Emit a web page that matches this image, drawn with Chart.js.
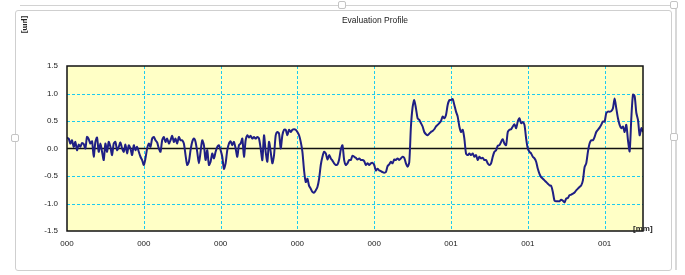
<!DOCTYPE html>
<html>
<head>
<meta charset="utf-8">
<title>Evaluation Profile</title>
<script src="https://cdn.jsdelivr.net/npm/chart.js@4.4.0/dist/chart.umd.min.js"></script>
<style>
    html, body { margin: 0; padding: 0; background: #fff; }
    #wrap { position: relative; width: 685px; height: 275px; overflow: hidden; font-family: "Liberation Sans", Arial, sans-serif; }
    #profileChart { position: absolute; left: 0; top: 0; }
    /* selection frame around the embedded chart */
    .frame-back { position: absolute; left: 20px; top: 5px; width: 655px; height: 264px; border-top: 1px solid #d2d2d2; border-right: 2px solid #d8d8d8; }
    .frame { position: absolute; left: 15px; top: 10px; width: 655px; height: 259px; border: 1px solid #cfcfcf; border-radius: 3px; }
    .handle { position: absolute; width: 6px; height: 6px; border: 1px solid #c4c4c4; background: #fff; border-radius: 2px; }
    .lbl { position: absolute; color: #222; font-size: 8px; white-space: nowrap; }
    #title { left: 300px; top: 15px; width: 150px; text-align: center; font-size: 8.5px; }
    #yUnit { left: 17px; top: 20px; transform: rotate(90deg); font-weight: bold; }
    #xUnit { left: 633px; top: 224px; font-weight: bold; }
</style>
</head>
<body>
<div id="wrap">
    <div class="frame-back"></div>
    <div class="frame"></div>
    <div class="handle" style="left:338px;top:1px;"></div>
    <div class="handle" style="left:670px;top:1px;"></div>
    <div class="handle" style="left:670px;top:133px;"></div>
    <div class="handle" style="left:11px;top:134px;"></div>
    <canvas id="profileChart" width="685" height="275"></canvas>
    <div class="lbl" id="title">Evaluation Profile</div>
    <div class="lbl" id="yUnit">[μm]</div>
    <div class="lbl" id="xUnit">[mm]</div>
</div>
<script>
// Profile heights [um], one sample per sampling step
const profileSeg1 = [0.2, 0.18, 0.09, 0.15, 0.03, 0.12, -0.03, 0.07, 0.03, 0.1, 0.08, 0, 0.21, 0.17, 0.09, 0.13, -0.15, 0.12, 0.2, -0.06,
    0.09, -0.06, -0.21, 0.09, -0.06, 0.12, 0.03, -0.12, 0.09, 0.12, -0.03, 0.03, 0.11, 0, -0.06, 0.07, -0.09, 0.06, 0, -0.12,
    0.06, -0.03, 0.03, -0.06, -0.15, -0.21, -0.3, -0.18, 0, 0.09, 0.03, 0.18, 0.21, 0.15, 0.11, 0, -0.06, 0.15, 0.21, 0.12,
    0.18, 0.09, 0.15, 0.23, 0.12, 0.18, 0.09, 0.21, 0.15];
const profileSeg2 = [0.15, 0.09, -0.12, -0.3, -0.24, -0.03, 0.12, 0.18, 0.12, -0.06, -0.27, -0.06, 0.15, 0.06, -0.21, -0.03, -0.3, -0.24, -0.09, -0.18,
    -0.06, 0.03, 0.06, -0.03, -0.15, -0.37, -0.27, -0.03, 0.09, 0.13, 0.06, 0.12, 0, -0.15, 0.06, 0.09, 0.18, -0.15, 0.15, 0.24,
    0.2, 0.23, 0.18, 0.21, 0.18, 0.21, 0.18, 0, -0.21, 0.24, -0.06, -0.24, 0.12, -0.06, -0.27, -0.12, 0.24, 0.3, 0.27, 0,
    0.24, 0.34, 0.34, 0.24, 0.34, 0.3];
const profileSeg3 = [0.34, 0.35, 0.34, 0.3, 0.24, 0.12, -0.06, -0.4, -0.61, -0.55, -0.68, -0.73, -0.79, -0.8, -0.76, -0.7, -0.55, -0.3, -0.15, -0.06,
    -0.09, -0.2, -0.12, -0.18, -0.22, -0.27, -0.3, -0.29, -0.2, -0.02, 0.06, -0.21, -0.3, -0.27, -0.21, -0.21, -0.13, -0.15, -0.17, -0.2,
    -0.18, -0.21, -0.21, -0.23, -0.3, -0.27, -0.3, -0.27, -0.26, -0.3, -0.4, -0.37, -0.4, -0.41, -0.43, -0.44, -0.43, -0.32, -0.29, -0.24,
    -0.27, -0.2, -0.21, -0.18, -0.21, -0.18, -0.15, -0.17];
const profileSeg4 = [-0.27, -0.33, -0.25, 0.4, 0.75, 0.88, 0.73, 0.55, 0.52, 0.46, 0.4, 0.3, 0.26, 0.24, 0.27, 0.3, 0.32, 0.35, 0.4, 0.43,
    0.46, 0.5, 0.58, 0.55, 0.61, 0.79, 0.88, 0.88, 0.9, 0.79, 0.67, 0.58, 0.4, 0.3, 0.34, 0.18, -0.09, -0.12, -0.09, -0.12,
    -0.09, -0.15, -0.12, -0.21, -0.15, -0.18, -0.17, -0.21, -0.21, -0.27, -0.3, -0.27, -0.15, -0.06, -0.03, 0.05, 0.06, 0.12, 0.17, 0.09,
    0.06, 0.3, 0.34, 0.35, 0.4, 0.44, 0.37, 0.49, 0.55];
const profileSeg5 = [0.46, 0.48, 0.43, 0.18, 0, -0.06, -0.09, -0.15, -0.18, -0.24, -0.37, -0.46, -0.52, -0.55, -0.58, -0.61, -0.64, -0.67, -0.68, -0.79,
    -0.95, -0.96, -0.96, -0.96, -0.93, -0.95, -0.98, -0.91, -0.9, -0.85, -0.84, -0.82, -0.8, -0.76, -0.73, -0.7, -0.67, -0.58, -0.34, -0.27,
    -0.06, 0.09, 0.15, 0.15, 0.21, 0.3, 0.34, 0.38, 0.43, 0.49, 0.49, 0.64, 0.67, 0.67, 0.68, 0.73, 0.91, 0.73, 0.55, 0.43,
    0.37, 0.4, 0.3, 0.43, 0.15, -0.05, 0.55, 0.98, 0.95, 0.65, 0.52, 0.24, 0.37, 0.3];

// x axis runs over 7.5 grid divisions; tick labels as printed on the original
const xTickLabels = ['000', '000', '000', '000', '000', '001', '001', '001'];
const xMax = 7.5;
const yMin = -1.5;
const yMax = 1.5;

(function(){
    'use strict';

    const heights = [].concat(profileSeg1, profileSeg2, profileSeg3, profileSeg4, profileSeg5);
    const step = xMax / (heights.length - 1); // constant sampling interval
    const points = heights.map(function(h, i) { return { x: i * step, y: h }; });

    function crisp(v) { return Math.round(v) + 0.5; }

    // plot background, dashed grid, zero line and frame of the plotting area
    const plotDecor = {
        id: 'plotDecor',
        beforeDatasetsDraw: function(chart) {
            const a = chart.chartArea, ctx = chart.ctx;
            const xs = chart.scales.x, ys = chart.scales.y;
            ctx.save();
            ctx.fillStyle = '#ffffc6';
            ctx.fillRect(a.left, a.top, a.right - a.left, a.bottom - a.top);

            // grid lines from the scales' own ticks
            ctx.strokeStyle = '#1ccbf0';
            ctx.lineWidth = 1;
            ctx.setLineDash([3, 2]);
            ctx.beginPath();
            xs.ticks.forEach(function(t) {
                const px = crisp(xs.getPixelForValue(t.value));
                if (px <= a.left + 1 || px >= a.right - 1) return;
                ctx.moveTo(px, a.top);
                ctx.lineTo(px, a.bottom);
            });
            ys.ticks.forEach(function(t) {
                if (t.value === 0) return;
                const py = crisp(ys.getPixelForValue(t.value));
                if (py <= a.top + 1 || py >= a.bottom - 1) return;
                ctx.moveTo(a.left, py);
                ctx.lineTo(a.right, py);
            });
            ctx.stroke();

            // zero line
            ctx.setLineDash([]);
            ctx.strokeStyle = '#111';
            ctx.lineWidth = 1.5;
            const y0 = ys.getPixelForValue(0);
            ctx.beginPath();
            ctx.moveTo(a.left, y0);
            ctx.lineTo(a.right, y0);
            ctx.stroke();
            ctx.restore();
        },
        afterDraw: function(chart) {
            const a = chart.chartArea, ctx = chart.ctx;
            ctx.save();
            ctx.strokeStyle = '#111';
            ctx.lineWidth = 1.5;
            ctx.strokeRect(a.left, a.top, a.right - a.left, a.bottom - a.top);
            ctx.restore();
        }
    };

    const tickFont = { family: '"Liberation Sans", Arial, sans-serif', size: 8 };

    new Chart(document.getElementById('profileChart').getContext('2d'), {
        type: 'line',
        data: {
            datasets: [{
                data: points,
                borderColor: '#1f1f84',
                borderWidth: 2,
                pointRadius: 0,
                tension: 0.25,
                fill: false
            }]
        },
        options: {
            responsive: false,
            animation: false,
            events: [],
            layout: { padding: { left: 0, right: 42, top: 66, bottom: 0 } },
            plugins: { legend: { display: false }, tooltip: { enabled: false } },
            scales: {
                x: {
                    type: 'linear',
                    min: 0,
                    max: xMax,
                    afterBuildTicks: function(scale) {
                        scale.ticks = xTickLabels.map(function(_, i) { return { value: i }; });
                    },
                    afterFit: function(scale) { scale.height = 44; },
                    grid: { display: false, drawTicks: false },
                    border: { display: false },
                    ticks: {
                        color: '#222',
                        font: tickFont,
                        padding: 8,
                        maxRotation: 0,
                        autoSkip: false,
                        callback: function(value, index) { return xTickLabels[index]; }
                    }
                },
                y: {
                    min: yMin,
                    max: yMax,
                    afterFit: function(scale) { scale.width = 67; },
                    grid: { display: false, drawTicks: false },
                    border: { display: false },
                    ticks: {
                        stepSize: 0.5,
                        color: '#222',
                        font: tickFont,
                        padding: 9,
                        callback: function(value) { return Number(value).toFixed(1); }
                    }
                }
            }
        },
        plugins: [plotDecor]
    });
})();
</script>
</body>
</html>
